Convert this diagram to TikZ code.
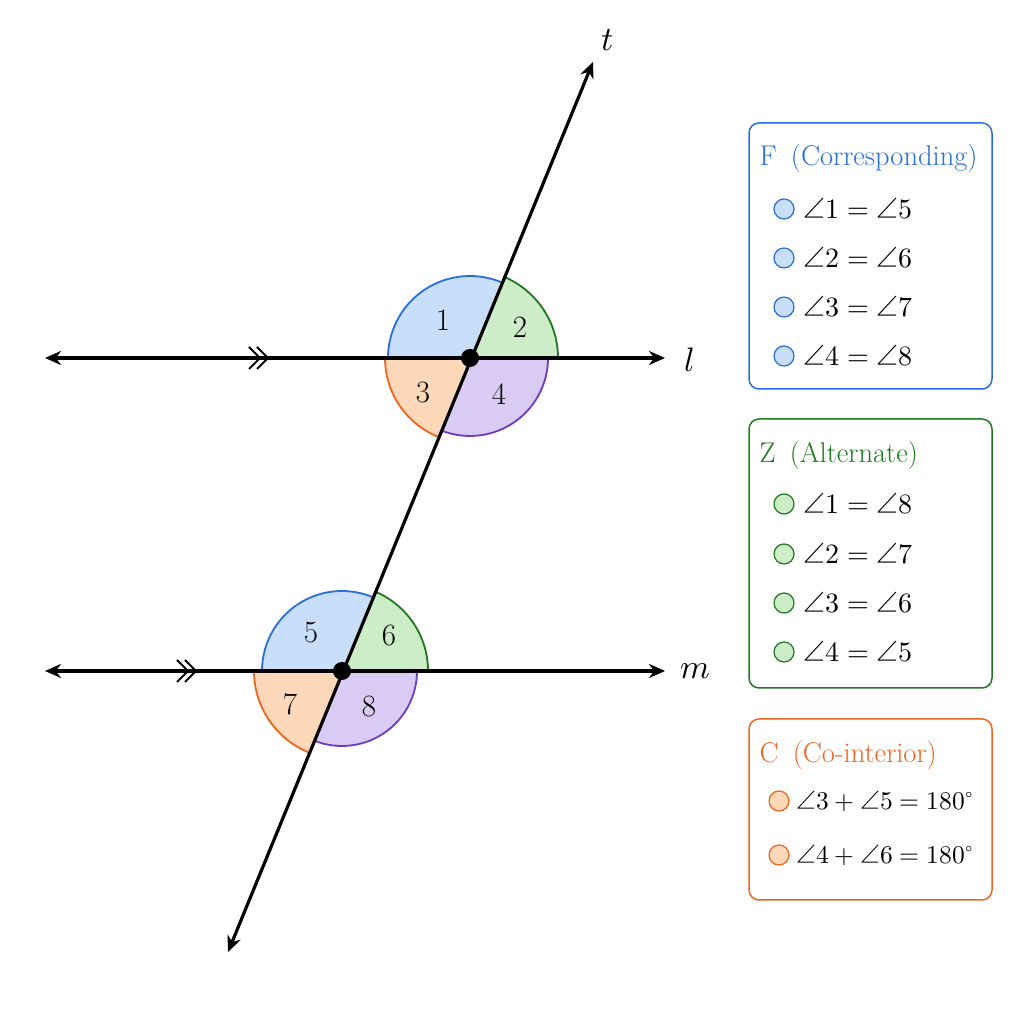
\documentclass[tikz,border=0pt]{standalone}
\usepackage{fontspec}
\usepackage{unicode-math}
\usetikzlibrary{arrows.meta}
\definecolor{bS}{RGB}{40,110,220}\definecolor{bF}{RGB}{200,222,250}
\definecolor{gS}{RGB}{30,120,30}\definecolor{gF}{RGB}{205,237,200}
\definecolor{oS}{RGB}{240,100,30}\definecolor{oF}{RGB}{255,215,185}
\definecolor{pS}{RGB}{110,60,190}\definecolor{pF}{RGB}{218,203,245}
\begin{document}
\begin{tikzpicture}[x=1pt,y=1pt,
  ln/.style={line width=3.2pt,{Stealth[length=16pt,width=14pt]}-{Stealth[length=16pt,width=14pt]}},
  num/.style={font=\fontsize{31}{33}\selectfont},
  box/.style={draw,line width=1.5pt,rounded corners=10pt},
  ttl/.style={anchor=west,font=\fontsize{28.5}{30}\selectfont},
  itm/.style={anchor=west,font=\fontsize{28}{30}\selectfont},
  dot/.style={circle,line width=1.2pt,minimum size=20pt,inner sep=0pt}]
\useasboundingbox (0,0) rectangle (1024,1024);
\def\T{67.75}
\coordinate (P) at (470,666); \coordinate (Q) at (342,353);
\newcommand\sect[5]{% point, a1, a2, r, colour
  \fill[#5F] (#1) -- ++(#2:#4) arc[start angle=#2,end angle=#3,radius=#4] -- cycle;
  \draw[#5S,line width=1.8pt] (#1) ++(#2:#4) arc[start angle=#2,end angle=#3,radius=#4];}
\sect{P}{\T}{180}{82}{b}\sect{P}{0}{\T}{88}{g}\sect{P}{180}{247.75}{85}{o}\sect{P}{247.75}{360}{78}{p}
\sect{Q}{\T}{180}{80}{b}\sect{Q}{0}{\T}{86}{g}\sect{Q}{180}{247.75}{88}{o}\sect{Q}{247.75}{360}{75}{p}
\coordinate (lL) at (45,666); \coordinate (lR) at (665,666);
\coordinate (mL) at (45,353); \coordinate (mR) at (665,353);
\coordinate (tB) at (228,72); \coordinate (tT) at (593,962);
\draw[ln] (lL) -- (lR); \draw[ln] (mL) -- (mR); \draw[ln] (tB) -- (tT);
\foreach \x/\y in {260/666,268/666,188/353,196/353}
  \draw[line width=2pt] (\x-11,\y+11) -- (\x,\y) -- (\x-11,\y-11);
\fill (P) circle (9); \fill (Q) circle (9);
\node[num] (n1) at (443,704) {1}; \node[num] (n2) at (520,697) {2};
\node[num] (n3) at (423,631) {3}; \node[num] (n4) at (499,630) {4};
\node[num] (n5) at (311,391) {5}; \node[num] (n6) at (389,388) {6};
\node[num] (n7) at (290,320) {7}; \node[num] (n8) at (369,317) {8};
\node[font=\fontsize{34}{36}\selectfont] (lt) at (608,984) {$t$};
\node[font=\fontsize{34}{36}\selectfont] (ll) at (690,664) {$l$};
\node[font=\fontsize{34}{36}\selectfont] (lm) at (695,353) {$m$};
% legend
\draw[box,bS] (749,635) rectangle (992,901);
\node[ttl,bS] (ft) at (756,866) {F\enspace(Corresponding)};
\foreach \y/\t in {815/{1 = \angle 5},766/{2 = \angle 6},717/{3 = \angle 7},668/{4 = \angle 8}}{
  \node[dot,draw=bS,fill=bF] at (784,\y) {};
  \node[itm] at (800,\y) {$\angle \t$};}
\draw[box,gS] (749,336) rectangle (992,605);
\node[ttl,gS] (zt) at (756,569) {Z\enspace(Alternate)};
\foreach \y/\t in {520/{1 = \angle 8},470/{2 = \angle 7},421/{3 = \angle 6},372/{4 = \angle 5}}{
  \node[dot,draw=gS,fill=gF] at (784,\y) {};
  \node[itm] at (800,\y) {$\angle \t$};}
\draw[box,oS] (749,124) rectangle (992,305);
\node[ttl,oS] (ct) at (756,269) {C\enspace(Co-interior)};
\foreach \y/\t in {223/{3 + \angle 5 = 180^\circ},169/{4 + \angle 6 = 180^\circ}}{
  \node[dot,draw=oS,fill=oF] at (779,\y) {};
  \node[itm,font=\fontsize{25.5}{28}\selectfont] at (793,\y) {$\angle \t$};}
\end{tikzpicture}
\end{document}
